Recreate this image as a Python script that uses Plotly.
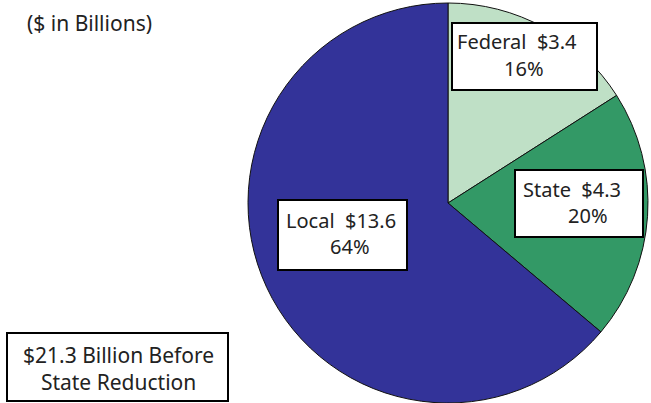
import plotly.graph_objects as go

# Данные (в миллиардах долларов)
sources = ['Federal', 'State', 'Local']
amounts = [3.4, 4.3, 13.6]
shares = [16, 20, 64]
total_note = ['$21.3 Billion Before', 'State Reduction']
colors = ['#BFE0C6', '#339966', '#333399']

W, H = 651, 403
FONT = 'Noto Sans'
INK = '#222222'


def px(x, y):
    # пиксели (от левого верхнего угла) -> координаты paper
    return x / W, 1 - y / H


fig = go.Figure(go.Pie(labels=sources, values=amounts, sort=False,
                       direction='clockwise', rotation=0,
                       marker=dict(colors=colors, line=dict(color='#111111', width=1)),
                       textinfo='none', hoverinfo='label+value+percent',
                       domain=dict(x=[(448 - 200) / W, (448 + 200) / W],
                                   y=[(403 - 203 - 200) / H, (403 - 203 + 200) / H])))


def box(x0, y0, x1, y1):
    a, b = px(x0, y0)
    c, d = px(x1, y1)
    fig.add_shape(type='rect', xref='paper', yref='paper', x0=a, y0=d, x1=c, y1=b,
                  fillcolor='white', line=dict(color='black', width=2), layer='above')


def text(s, x, y, size):
    a, b = px(x, y)
    fig.add_annotation(x=a, y=b, xref='paper', yref='paper', xanchor='center', yanchor='middle',
                       text=s, showarrow=False, font=dict(family=FONT, size=size, color=INK))


# Рамки подписей: (левый, верхний, правый, нижний) и центры строк
frames = [(452, 23, 597, 90), (515, 170, 643, 237), (278, 200, 407, 270)]
line1 = [(517, 42), (572, 189), (341, 221)]
line2 = [(524, 68), (588, 215), (350, 246)]
for name, amt, pct, fr, p1, p2 in zip(sources, amounts, shares, frames, line1, line2):
    box(*fr)
    text(f'{name}  ${amt}', p1[0], p1[1], 20)
    text(f'{pct}%', p2[0], p2[1], 20)

text('($ in Billions)', 89, 23, 21)

box(7, 333, 228, 401)
text('<br>'.join(total_note), 118, 368, 21)

fig.update_layout(width=W, height=H, showlegend=False,
                  paper_bgcolor='white', plot_bgcolor='white',
                  margin=dict(l=0, r=0, t=0, b=0))
fig.write_html('out.html', config={'displayModeBar': False},
               post_script="document.body.style.margin='0';")
